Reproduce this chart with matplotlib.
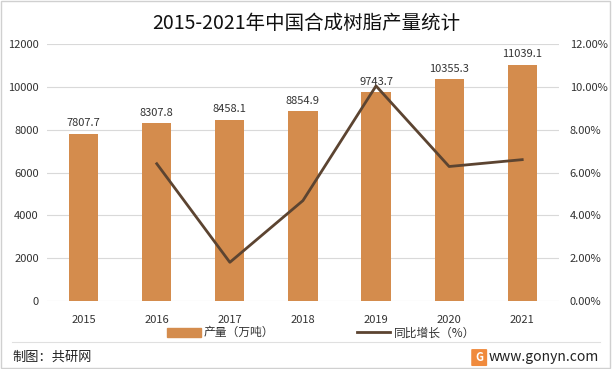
import matplotlib
matplotlib.use("Agg")
import matplotlib.pyplot as plt
from matplotlib.patches import Rectangle, FancyBboxPatch
from matplotlib.lines import Line2D
from matplotlib.ticker import FuncFormatter

plt.rcParams["font.family"] = ["Noto Sans CJK SC", "DejaVu Sans"]

years = ["2015", "2016", "2017", "2018", "2019", "2020", "2021"]
output = [7807.7, 8307.8, 8458.1, 8854.9, 9743.7, 10355.3, 11039.1]
growth_years = ["2016", "2017", "2018", "2019", "2020", "2021"]
growth = [6.41, 1.81, 4.69, 10.04, 6.28, 6.60]

bar_color = "#D48C4D"
line_color = "#5C4431"
text_color = "#333333"

fig = plt.figure(figsize=(6.12, 3.69), dpi=100)
ax = fig.add_axes([0.077, 0.184, 0.836, 0.697])

x = list(range(len(years)))
ax.bar(x, output, width=0.4, color=bar_color, zorder=2)
for xi, v in zip(x, output):
    ax.text(xi, v + 250, f"{v:.1f}", ha="center", va="bottom", fontsize=8, color=text_color)

ax.set_xlim(-0.5, len(years) - 0.5)
ax.set_ylim(0, 12000)
ax.set_yticks(range(0, 12001, 2000))
ax.set_xticks(x)
ax.set_xticklabels(years)
ax.grid(axis="y", color="#D9D9D9", linewidth=0.8, zorder=0)
ax.set_axisbelow(True)
for s in ax.spines.values():
    s.set_visible(False)
ax.tick_params(length=0, labelsize=8, colors=text_color, pad=6)
ax.tick_params(axis="x", pad=10)

ax2 = ax.twinx()
gx = [years.index(y) for y in growth_years]
ax2.plot(gx, growth, color=line_color, linewidth=2, zorder=3)
ax2.set_ylim(0, 12)
ax2.set_yticks(range(0, 13, 2))
ax2.yaxis.set_major_formatter(FuncFormatter(lambda v, p: f"{v:.2f}%"))
for s in ax2.spines.values():
    s.set_visible(False)
ax2.tick_params(length=0, labelsize=8, colors=text_color, pad=8)

fig.text(0.5, 0.935, "2015-2021年中国合成树脂产量统计", ha="center", va="center",
         fontsize=14, color="#111111")

handles = [Rectangle((0, 0), 1, 1, color=bar_color),
           Line2D([0], [0], color=line_color, linewidth=2)]
fig.legend(handles, ["产量（万吨）", "同比增长（%）"], loc="center", bbox_to_anchor=(0.525, 0.098),
           ncol=2, frameon=False, fontsize=8.5, handlelength=2.8, handleheight=0.8,
           columnspacing=7, handletextpad=0.3, labelcolor=text_color)

fig.add_artist(Line2D([0.02, 0.98], [0.073, 0.073], transform=fig.transFigure,
                      color="#E0E0E0", linewidth=0.8))
fig.text(0.02, 0.033, "制图：共研网", ha="left", va="center", fontsize=9.5, color="#222222")
fig.text(0.978, 0.033, "www.gonyn.com", ha="right", va="center", fontsize=10, color="#222222")
fig.add_artist(FancyBboxPatch((0.772, 0.01), 0.022, 0.042, boxstyle="round,pad=0.002",
                              transform=fig.transFigure, facecolor="#F08A3C", edgecolor="none"))
fig.text(0.783, 0.032, "G", ha="center", va="center", fontsize=8, color="white", weight="bold")

fig.add_artist(Rectangle((0.002, 0.003), 0.994, 0.994, transform=fig.transFigure,
                         fill=False, edgecolor="#D0D0D0", linewidth=1))

fig.savefig("out.png", dpi=100)
